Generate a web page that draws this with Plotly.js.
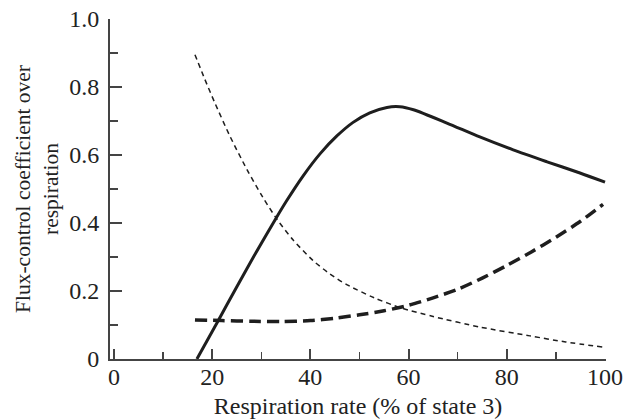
<!DOCTYPE html>
<html>
<head>
<meta charset="utf-8">
<script src="https://cdn.plot.ly/plotly-3.0.1.min.js"></script>
<style>html,body{margin:0;padding:0;background:#fff;}#chart{width:623px;height:419px;}</style>
</head>
<body>
<div id="chart"></div>
<script>
// Solid curve
const solidX = [16.9, 21.2, 25, 29, 32.8, 35.2, 38.5, 42, 45.4, 48.7, 52.1, 55.6, 58.2, 61, 67.8, 74.5, 81.3, 88.2, 94.9, 100];
const solidY = [0, 0.112, 0.212, 0.315, 0.409, 0.466, 0.538, 0.604, 0.656, 0.696, 0.724, 0.740, 0.742, 0.733, 0.694, 0.653, 0.615, 0.58, 0.547, 0.52];
// Thin dashed curve
const thinX = [16.5, 18.5, 20.5, 23.6, 27.1, 30.3, 33.2, 36.5, 40.5, 44, 47.5, 53, 58.5, 65, 74.5, 84.7, 92, 99.6];
const thinY = [0.895, 0.823, 0.755, 0.656, 0.557, 0.476, 0.411, 0.35, 0.29, 0.25, 0.218, 0.18, 0.15, 0.125, 0.094, 0.068, 0.05, 0.035];
// Thick dashed curve
const thickX = [16.5, 22, 28, 34, 40, 45, 50, 55, 60, 65, 70, 75, 80, 85, 90, 95, 99.6];
const thickY = [0.115, 0.113, 0.111, 0.11, 0.113, 0.12, 0.13, 0.142, 0.158, 0.18, 0.205, 0.238, 0.275, 0.315, 0.358, 0.405, 0.455];

const xTickVals = [0, 20, 40, 60, 80, 100];
const xTickText = ['0', '20', '40', '60', '80', '100'];
const yTickVals = [0, 0.2, 0.4, 0.6, 0.8, 1.0];
const yTickText = ['0', '0.2', '0.4', '0.6', '0.8', '1.0'];

const ink = '#1e1e1e';
const traces = [
  {x: solidX, y: solidY, mode: 'lines', line: {color: ink, width: 3, shape: 'spline', smoothing: 0.7}},
  {x: thinX, y: thinY, mode: 'lines', line: {color: ink, width: 1.5, dash: '5px,4px', shape: 'spline', smoothing: 0.7}},
  {x: thickX, y: thickY, mode: 'lines', line: {color: ink, width: 3.5, dash: '12px,6px', shape: 'spline', smoothing: 0.7}}
];

const font = {family: 'Liberation Serif, Times New Roman, serif', color: '#222'};
const layout = {
  width: 623, height: 419,
  margin: {l: 110, r: 17, t: 19, b: 60},
  paper_bgcolor: '#fff', plot_bgcolor: '#fff',
  showlegend: false,
  font: Object.assign({size: 24}, font),
  xaxis: {
    range: [-0.8, 100.2], showgrid: false, zeroline: false,
    showline: true, linecolor: '#444', linewidth: 2,
    ticks: 'inside', ticklen: 10, tickwidth: 2, tickcolor: '#444',
    tickvals: xTickVals, ticktext: xTickText,
    tickfont: Object.assign({size: 24}, font),
    ticklabeloverflow: 'allow',
    ticklabelstandoff: -5,
    minor: {ticks: 'inside', ticklen: 7, tickwidth: 1.5, tickcolor: '#444', dtick: 10, tick0: 0, showgrid: false},
    title: {text: 'Respiration rate (% of state 3)', font: Object.assign({size: 24}, font), standoff: 14}
  },
  yaxis: {
    range: [0, 1.0], showgrid: false, zeroline: false,
    showline: true, linecolor: '#444', linewidth: 2,
    ticks: 'inside', ticklen: 12, tickwidth: 2, tickcolor: '#444',
    tickvals: yTickVals, ticktext: yTickText,
    tickfont: Object.assign({size: 24}, font),
    ticklabeloverflow: 'allow',
    ticklabelstandoff: 4,
    minor: {ticks: 'inside', ticklen: 8, tickwidth: 1.5, tickcolor: '#444', dtick: 0.1, tick0: 0, showgrid: false},
    title: {text: 'Flux-control coefficient over<br>respiration', font: Object.assign({size: 21.5}, font), standoff: 5}
  }
};
Plotly.newPlot('chart', traces, layout, {staticPlot: true, displayModeBar: false});
</script>
</body>
</html>
